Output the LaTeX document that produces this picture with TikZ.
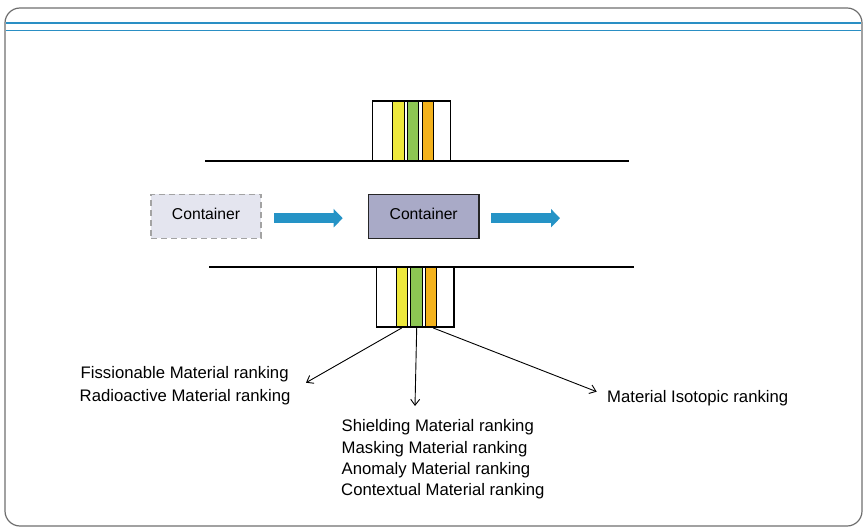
\documentclass[tikz,border=0pt]{standalone}
\usepackage{fontspec}
\setmainfont{Liberation Sans}
\usetikzlibrary{arrows.meta}
\definecolor{frameblue}{HTML}{2A8FC4}
\definecolor{framegray}{HTML}{6E6E6E}
\definecolor{arrowblue}{HTML}{2593C6}
\definecolor{stripeyellow}{HTML}{EDE83C}
\definecolor{stripegreen}{HTML}{8DC653}
\definecolor{stripeorange}{HTML}{F3B21C}
\definecolor{boxfill}{HTML}{A9AAC7}
\definecolor{ghostfill}{HTML}{E4E5EF}
\definecolor{ghostline}{HTML}{A3A3A3}
\begin{document}
\begin{tikzpicture}[x=1pt,y=-1pt,
  lbl/.style={inner sep=0pt, anchor=base west, font=\fontsize{16.7}{20}\selectfont},
  contbox/.style={minimum width=110pt, minimum height=44pt, inner sep=0pt,
     text height=11.5pt, text depth=4.8pt, font=\fontsize{15.7}{18}\selectfont},
  flowarrow/.style={arrowblue, line width=10.3pt, -{Triangle[length=9pt,width=18pt]}},
  thinarrow/.style={black, line width=0.9pt, -{Straight Barb[length=6pt,width=9pt]}},
  detline/.style={line width=2pt},
  detbox/.style={line width=1.8pt},
  stripe/.style={draw=black, line width=1pt}]
\useasboundingbox (0,0) rectangle (867,529);
% frame
\draw[framegray, line width=1.2pt, rounded corners=15pt] (5,8) rectangle (862,526);
\draw[frameblue, line width=1.3pt] (5.6,23) -- (861.4,23);
\draw[frameblue, line width=1.3pt] (5.6,30.3) -- (861.4,30.3);

% top detector
\draw[stripe, fill=stripeyellow] (392.5,101) rectangle (404,161);
\draw[stripe, fill=stripegreen] (407.5,101) rectangle (418.5,161);
\draw[stripe, fill=stripeorange] (422.5,101) rectangle (433,161);
\draw[detbox] (372.5,161) |- (450.5,101) -- (450.5,161);
\draw[detline] (205,161) -- (629,161);

% bottom detector
\draw[stripe, fill=stripeyellow] (396.5,267) rectangle (407,327);
\draw[stripe, fill=stripegreen] (410.5,267) rectangle (422,327);
\draw[stripe, fill=stripeorange] (425.5,267) rectangle (436.5,327);
\draw[detbox] (376.5,267) |- (454,327) -- (454,267);
\draw[detline] (209,267) -- (634,267);

% containers
\node[contbox, fill=ghostfill, draw=ghostline, line width=1.2pt, dash pattern=on 6pt off 4pt]
  (c1) at (206,216.2) {Container};
\node[contbox, fill=boxfill, draw=black!85, line width=1.2pt, minimum width=110.7pt]
  (c2) at (423.7,216.3) {Container};

% flow arrows
\coordinate (f1s) at (274,218.2);
\coordinate (f1e) at (342.7,218.2);
\coordinate (f2s) at (491,218.2);
\coordinate (f2e) at (560,218.2);
\draw[flowarrow] (f1s) -- (f1e);
\draw[flowarrow] (f2s) -- (f2e);

% arrow sources
\coordinate (sL) at (401.7,328);
\coordinate (sM) at (416.7,328);
\coordinate (sR) at (433.3,328);
\coordinate (tL) at (306,382.7);
\coordinate (tM) at (415,406);
\coordinate (tR) at (596.7,391.7);
\draw[thinarrow] (sL) -- (tL);
\draw[thinarrow] (sM) -- (tM);
\draw[thinarrow] (sR) -- (tR);

% labels
\node[lbl] (fis) at (80.5,378.3) {Fissionable Material ranking};
\node[lbl] (rad) at (79.5,401.6) {Radioactive Material ranking};
\node[lbl] (shi) at (341.5,431.8) {Shielding Material ranking};
\node[lbl] (mas) at (341.5,453.3) {Masking Material ranking};
\node[lbl] (ano) at (341.5,474.8) {Anomaly Material ranking};
\node[lbl] (con) at (341,495.8) {Contextual Material ranking};
\node[lbl] (iso) at (607,402.8) {Material Isotopic ranking};
\end{tikzpicture}
\end{document}
